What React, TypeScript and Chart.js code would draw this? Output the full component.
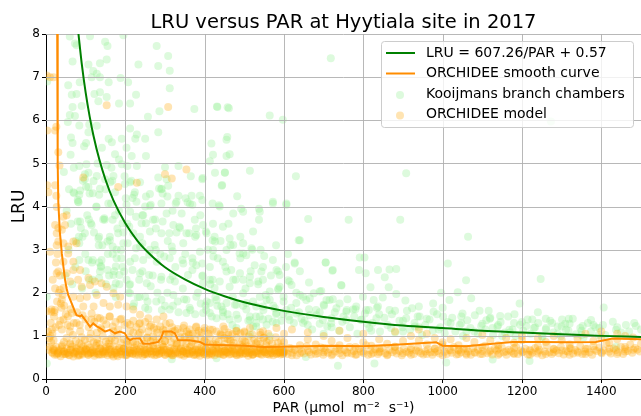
import { useEffect, useRef } from "react";
import { Chart, registerables } from "chart.js";

Chart.register(...registerables);

// ---------- text ----------
const titleText = "LRU versus PAR at Hyytiala site in 2017";
const xLabel = "PAR (\u03bcmol  m\u207b\u00b2  s\u207b\u00b9)";
const yLabel = "LRU";
const legendLabels = [
  "LRU = 607.26/PAR + 0.57",
  "ORCHIDEE smooth curve",
  "Kooijmans branch chambers",
  "ORCHIDEE model",
];

// ---------- axes ----------
const xTicks = [0, 200, 400, 600, 800, 1000, 1200, 1400];
const yTicks = [0, 1, 2, 3, 4, 5, 6, 7, 8];
const xMin = 0;
const xMax = 1500;
const yMin = 0;
const yMax = 8;

// ---------- fitted curve ----------
const fitPar = [80, 90, 100, 110, 120, 135, 150, 170, 200, 230, 260, 300, 350, 400, 450, 500, 600, 700, 800, 900, 1000, 1100, 1200, 1300, 1400, 1500];
const fitLru = [8.16, 7.32, 6.64, 6.09, 5.63, 5.07, 4.62, 4.14, 3.61, 3.21, 2.91, 2.59, 2.31, 2.09, 1.92, 1.78, 1.58, 1.44, 1.33, 1.24, 1.18, 1.12, 1.08, 1.04, 1.0, 0.975];

// ---------- ORCHIDEE smooth curve ----------
const smoothPar = [28, 29, 30, 31, 35, 40, 44, 48, 52, 56, 65, 73, 77, 86, 90, 102, 111, 119, 128, 136, 149, 161, 174, 186, 199, 205, 212, 220, 237, 245, 262, 283, 290, 296, 316, 325, 333, 362, 388, 400, 430, 465, 500, 549, 589, 650, 720, 799, 870, 942, 984, 1000, 1059, 1120, 1176, 1250, 1320, 1386, 1428, 1500];
const smoothLru = [8.6, 6.5, 5.0, 4.1, 3.4, 2.9, 2.6, 2.3, 2.1, 1.95, 1.75, 1.56, 1.48, 1.45, 1.48, 1.33, 1.21, 1.29, 1.22, 1.18, 1.1, 1.14, 1.06, 1.1, 1.06, 0.95, 0.9, 0.94, 0.94, 0.82, 0.82, 0.86, 0.95, 1.1, 1.1, 1.06, 0.9, 0.9, 0.86, 0.8, 0.79, 0.78, 0.77, 0.74, 0.75, 0.76, 0.77, 0.76, 0.79, 0.83, 0.85, 0.77, 0.76, 0.81, 0.86, 0.86, 0.85, 0.86, 0.94, 0.92];

// ---------- Kooijmans branch chambers ----------
const greenPar = [
  60, 111, 77, 73, 149, 155, 195, 279, 308, 67, 107, 136, 153, 283, 233, 312, 119, 128, 136, 115, 188, 207, 56, 85, 158, 312, 65, 77, 122, 136,
  153, 227, 212, 67, 90, 132, 184, 257, 286, 374, 431, 458, 60, 73, 109, 84, 55, 128, 212, 229, 250, 225, 283, 63, 67, 101, 107, 141, 158, 166,
  191, 174, 184, 203, 216, 252, 205, 191, 84, 102, 153, 229, 300, 334, 413, 421, 455, 455, 98, 107, 128, 149, 170, 98, 120, 162, 212, 237, 283, 304,
  308, 394, 426, 451, 443, 69, 86, 107, 136, 174, 199, 224, 262, 292, 334, 367, 388,
  718, 432, 461, 564, 597, 457, 417, 463, 451, 514, 395, 630, 444, 482, 572, 606, 436, 492, 537, 908, 1273,
  606, 661, 763, 893, 637, 1064, 627, 705, 722, 791, 803, 789, 806, 837, 866, 883, 854, 1013, 1059, 1247, 589, 610, 619, 663, 745, 818, 864, 883, 996, 1038,
  1072, 1017, 599, 648, 675, 694, 707, 723, 740, 799, 826, 849, 906, 774, 814, 837, 866, 923, 940, 976, 977, 1001, 1047, 1093, 1116, 1145, 1194, 1181, 1226, 1276,
  1301, 1318, 1374, 1406, 1429, 1462, 1483, 598, 631, 665, 698, 719, 757, 794, 833, 908, 942, 1047, 1097, 1126, 1168, 1211, 1261, 1311, 1353, 1395, 1437, 1487,
  736, 828, 1009, 1126, 1219, 655, 1437,
  81, 127, 157, 203, 228, 262, 291, 329, 363, 86, 115, 98, 148, 174, 212, 245, 241, 270, 304, 321, 342, 375, 396, 438, 472, 497, 539, 537, 572, 182,
  220, 262, 291, 329, 354, 379, 425, 463, 497, 132, 161, 195, 237, 274, 317, 346, 388, 421, 455, 497, 518, 547, 581, 107, 140, 178, 212, 245, 279, 312,
  346, 379, 413, 455, 489, 514, 547, 585, 136, 170, 203, 237, 254, 291, 325, 358, 396, 425, 463, 497, 539, 564, 170, 212, 250, 291, 321, 354, 379, 413,
  442, 476, 505, 547, 581, 220, 258, 312, 354, 396, 430, 463, 514, 547, 480, 530, 581, 514, 564, 2, 430, 317, 84, 2, 3,
  700, 900, 1150, 1350, 1450, 1250,
];
const greenLru = [
  7.94, 7.95, 7.74, 7.78, 7.82, 7.72, 7.97, 7.72, 7.49, 7.36, 7.29, 7.32, 7.41, 7.26, 7.29, 7.15, 7.14, 7.08, 7.0, 7.0, 6.98, 6.88, 6.81, 6.88, 6.88, 6.74, 6.59, 6.61, 6.61, 6.65,
  6.54, 6.59, 6.39, 6.31, 6.33, 6.44, 6.39, 6.08, 6.21, 6.26, 6.32, 6.3, 6.12, 6.1, 5.9, 5.88, 5.96, 5.87, 5.81, 5.67, 5.57, 5.57, 5.72, 5.6, 5.47, 5.47, 5.72, 5.36, 5.57, 5.49,
  5.57, 5.21, 5.09, 5.36, 5.17, 5.17, 4.94, 4.98, 4.94, 4.98, 4.96, 4.94, 4.91, 4.94, 5.05, 5.2, 5.55, 5.17, 4.75, 4.78, 4.71, 4.63, 4.71, 4.63, 4.59, 4.56, 4.56, 4.56, 4.67, 4.63,
  4.48, 4.63, 4.78, 4.78, 4.48, 4.33, 4.37, 4.45, 4.41, 4.33, 4.52, 4.33, 4.29, 4.41, 4.25, 4.25, 4.25,
  7.44, 6.31, 6.28, 6.11, 6.01, 5.61, 5.46, 5.21, 4.79, 4.83, 4.66, 4.7, 4.5, 4.24, 4.11, 4.07, 4.03, 3.95, 3.95, 4.77, 5.97,
  4.04, 3.71, 3.69, 3.69, 3.22, 3.3, 2.7, 2.7, 2.51, 2.82, 2.82, 2.53, 2.45, 2.53, 2.54, 2.55, 2.36, 2.68, 2.29, 2.32, 2.41, 2.29, 2.18, 2.24, 2.17, 2.13, 2.13, 1.97, 2.0, 2.01,
  1.87, 1.83, 1.91, 1.91, 1.99, 2.04, 1.83, 1.85, 1.75, 1.91, 1.83, 1.89, 1.82, 1.61, 1.6, 1.68, 1.6, 1.64, 1.68, 1.75, 1.56, 1.45, 1.45, 1.58, 1.58, 1.46, 1.75, 1.5, 1.38, 1.3,
  1.38, 1.4, 1.37, 1.66, 1.33, 1.25, 1.3, 1.51, 1.52, 1.48, 1.37, 1.29, 1.37, 1.37, 1.41, 1.41, 1.45, 1.29, 1.23, 1.18, 1.14, 1.23, 1.18, 1.14, 1.23, 1.18, 1.14, 1.23,
  0.31, 0.36, 0.38, 0.45, 0.42, 0.51, 0.75,
  4.11, 3.99, 4.07, 4.04, 4.11, 4.01, 4.07, 4.11, 4.06, 3.65, 3.57, 3.38, 3.69, 3.8, 3.88, 3.8, 3.61, 3.69, 3.84, 3.57, 3.84, 3.69, 3.57, 4.0, 3.84, 3.88, 3.88, 3.69, 4.07, 3.38,
  3.38, 3.42, 3.38, 3.4, 3.38, 3.34, 3.3, 3.26, 3.15, 3.26, 3.22, 3.15, 3.07, 3.11, 3.07, 3.15, 2.95, 2.99, 2.99, 2.91, 3.03, 2.6, 2.53, 2.76, 2.76, 2.8, 2.72, 2.76, 2.72, 2.8,
  2.68, 2.64, 2.6, 2.49, 2.45, 2.37, 2.3, 2.07, 2.49, 2.41, 2.3, 2.45, 2.22, 2.37, 2.26, 2.41, 2.22, 2.11, 2.14, 1.99, 1.91, 1.84, 2.11, 1.99, 1.91, 1.84, 1.95, 1.84, 1.91, 1.76,
  1.68, 1.72, 1.61, 1.68, 1.53, 1.68, 1.61, 1.61, 1.53, 1.53, 1.41, 1.38, 1.45, 1.38, 1.18, 1.22, 1.3, 1.03, 0.99, 0.36, 0.48, 0.46, 3.15, 1.91, 6.9,
  1.05, 1.1, 1.0, 1.02, 1.08, 0.98,
];
const greenCloudPar = [
  71, 84, 101, 118, 134, 80, 164, 201, 222, 252, 264, 285, 306, 327, 352, 369, 394, 420, 80, 113,
  147, 168, 180, 193, 210, 227, 243, 252, 277, 294, 311, 336, 361, 378, 403, 420, 92, 134, 155, 168,
  189, 206, 227, 243, 260, 277, 298, 319, 344, 369, 394, 84, 118, 139, 155, 176, 197, 218, 235, 260,
  290, 319, 369, 394, 420, 109, 134, 176, 210, 185,
  405, 426, 446, 472, 522, 422, 446, 467, 488, 505, 526, 543, 572, 585, 627, 640, 705, 723, 744, 413,
  438, 472, 497, 514, 535, 564, 589, 614, 640, 665, 690, 405, 430, 455, 480, 505, 530, 556, 577, 606,
  631, 656, 681, 715, 732, 757, 782, 807, 413, 446, 480, 514, 539, 572, 614, 648, 522, 556,
];
const greenCloudLru = [
  4.31, 4.27, 4.46, 4.31, 4.27, 4.15, 4.07, 4.19, 4.27, 4.23, 4.04, 4.42, 4.23, 4.07, 4.19, 4.04, 4.15, 4.07, 3.65, 3.61,
  3.73, 3.69, 3.49, 3.61, 3.53, 3.76, 3.8, 3.61, 3.49, 3.65, 3.38, 3.53, 3.38, 3.49, 3.42, 3.22, 3.3, 3.3, 3.19, 3.07,
  2.99, 3.15, 3.03, 3.15, 2.88, 2.99, 2.84, 2.96, 2.76, 2.8, 2.68, 2.76, 2.76, 2.62, 2.53, 2.61, 2.49, 2.53, 2.3, 2.41,
  2.3, 2.38, 2.53, 2.38, 2.3, 2.3, 2.34, 2.22, 2.18, 2.41,
  3.38, 3.19, 3.53, 3.11, 3.42, 2.84, 2.72, 2.53, 2.91, 2.87, 2.64, 2.49, 2.76, 2.49, 2.68, 3.22, 2.7, 2.53, 2.18, 2.3,
  2.26, 2.3, 2.3, 2.22, 2.26, 2.03, 2.14, 2.26, 1.95, 1.87, 2.03, 1.8, 1.83, 1.76, 1.72, 1.76, 1.68, 1.83, 1.64, 1.6,
  1.76, 1.83, 1.6, 1.83, 1.64, 1.56, 1.68, 1.6, 1.53, 1.45, 1.49, 1.37, 1.45, 1.33, 1.37, 1.3, 1.22, 1.26,
];
const greenRightPar = [
  660, 690, 720, 750, 780, 810, 840, 870, 900, 930, 960, 990, 1020, 1050, 1080, 1110, 1140, 1170, 1200, 1230,
  1260, 1290, 1320, 1350, 1380, 1410, 1440, 1470, 1500, 700, 760, 820, 880, 940, 1000, 1060, 1120, 1180, 1240, 1300,
];
const greenRightLru = [
  1.25, 1.55, 1.2, 1.45, 1.62, 1.28, 1.5, 1.18, 1.35, 1.22, 1.4, 1.15, 1.3, 1.52, 1.1, 1.36, 1.25, 1.08, 1.32, 1.18,
  1.4, 1.05, 1.28, 1.12, 1.25, 1.02, 1.2, 1.1, 1.15, 1.72, 1.85, 1.12, 1.58, 1.2, 1.65, 1.1, 1.42, 1.3, 1.55, 1.22,
];
// further points of the dense cloud (low PAR)
const greenLowPar = [
  45, 52, 58, 63, 70, 75, 82, 88, 93, 99, 104, 110, 116, 121, 127, 133, 138, 144, 150, 156,
  161, 167, 172, 178, 184, 190, 195, 48, 57, 66, 74, 83, 91, 100, 108, 117, 125, 134, 142, 151,
  159, 168, 176, 185, 193, 62, 96, 130, 165, 198,
];
const greenLowLru = [
  4.8, 3.9, 4.4, 3.6, 4.9, 3.2, 4.1, 3.5, 4.6, 2.9, 3.8, 4.3, 2.7, 3.4, 4.0, 3.1, 2.6, 3.7, 4.4, 2.9,
  3.3, 4.6, 2.5, 3.0, 3.9, 2.8, 3.4, 2.4, 3.0, 2.2, 2.6, 3.3, 2.1, 2.5, 3.7, 2.3, 2.0, 2.7, 3.1, 2.2,
  2.4, 2.9, 1.9, 2.2, 2.6, 5.2, 5.4, 5.0, 4.9, 4.7,
];
// further points of the cloud (mid PAR)
const greenMidPar = [
  205, 212, 218, 224, 231, 237, 243, 250, 256, 262, 269, 275, 281, 288, 294, 300, 307, 313, 319, 326,
  332, 338, 345, 351, 357, 364, 370, 376, 383, 389, 395, 402, 408, 414, 421, 427, 433, 440, 446, 208,
  222, 236, 250, 264, 278, 292, 306, 320, 334, 348, 362, 376, 390, 404, 418, 432, 446, 215, 290, 365,
  452, 458, 465, 471, 478, 484, 490, 497, 503, 510, 516, 522, 529, 535, 541, 548, 554, 561, 567, 573,
  580, 586, 593, 599, 605, 612, 618, 625, 631, 638, 644, 460, 490, 520, 550, 580, 610, 640, 470, 530,
];
const greenMidLru = [
  3.6, 2.2, 4.2, 2.8, 1.9, 3.3, 2.5, 4.0, 1.8, 3.0, 2.4, 3.7, 2.0, 2.9, 4.3, 1.7, 3.2, 2.3, 3.9, 2.6,
  1.8, 3.5, 2.1, 2.9, 4.1, 1.6, 2.7, 3.3, 2.0, 3.8, 2.4, 1.7, 3.0, 2.2, 3.6, 1.9, 2.8, 3.2, 1.6, 2.0,
  1.75, 1.9, 1.65, 2.15, 1.8, 1.6, 2.0, 1.7, 1.55, 1.85, 1.65, 1.5, 1.75, 1.6, 1.45, 1.7, 1.55, 4.6, 4.4, 4.7,
  2.6, 1.5, 3.1, 1.9, 2.3, 1.4, 2.8, 1.7, 2.1, 1.35, 2.5, 1.8, 1.45, 2.2, 3.0, 1.6, 1.95, 1.4, 2.4, 1.7,
  1.5, 2.1, 1.35, 1.8, 2.6, 1.45, 1.65, 1.3, 2.0, 1.55, 1.4, 3.6, 3.3, 3.0, 2.85, 3.1, 2.9, 2.5, 1.25, 1.3,
];
// band of chamber points around the fitted curve at high PAR
const greenHighPar = [
  652, 663, 671, 682, 690, 701, 709, 720, 728, 739, 747, 758, 766, 777, 785, 796, 804, 815, 823, 834,
  842, 853, 861, 872, 880, 891, 899, 910, 918, 929, 937, 948, 956, 967, 975, 986, 994, 1005, 1013, 1024,
  1032, 1043, 1051, 1062, 1070, 1081, 1089, 1100, 1108, 1119, 1127, 1138, 1146, 1157, 1165, 1176, 1184, 1195, 1203, 1214,
  1222, 1233, 1241, 1252, 1260, 1271, 1279, 1290, 1298, 1309, 1317, 1328, 1336, 1347, 1355, 1366, 1374, 1385, 1393, 1404,
];
const greenHighLru = [
  1.35, 1.62, 1.15, 1.48, 1.28, 1.7, 1.22, 1.41, 1.55, 1.12, 1.33, 1.6, 1.2, 1.45, 1.05, 1.38, 1.52, 1.18, 1.3, 1.65,
  1.1, 1.42, 1.25, 1.5, 1.08, 1.35, 1.2, 1.58, 1.14, 1.3, 1.45, 1.02, 1.25, 1.38, 1.12, 1.5, 1.2, 1.06, 1.32, 1.42,
  1.1, 1.25, 1.0, 1.36, 1.18, 1.48, 1.05, 1.28, 1.15, 1.4, 1.02, 1.22, 1.32, 1.08, 1.45, 1.15, 1.0, 1.26, 1.12, 1.38,
  1.05, 1.2, 1.3, 0.98, 1.15, 1.35, 1.08, 1.22, 1.0, 1.28, 1.12, 1.4, 1.04, 1.18, 0.96, 1.3, 1.1, 1.2, 1.02, 1.25,
];

// ---------- ORCHIDEE model ----------
const orangePar = [
  2, 10, 19, 23, 3, 26, 31, 34, 3, 23, 6, 26, 153, 308, 94, 229, 300, 317, 354, 182,
  27, 23, 27, 31, 44, 48, 52, 40, 10, 44, 56, 69, 77, 56, 69, 44, 31, 27, 52, 69, 86, 81, 61, 35, 44, 90, 107, 111, 123, 140,
  153, 170, 187, 40, 14, 2, 69, 86, 103, 128, 94, 120, 145, 161, 182, 203, 220, 237, 258, 279, 296, 65, 44, 40, 61, 77, 115, 136, 161, 187,
  212, 237, 262, 312, 346, 379, 413, 447, 480, 514, 547, 581, 86, 128, 170, 237, 296, 14, 22,
  18, 40, 61, 77, 94, 111, 128, 145, 161, 178, 195, 212, 229, 245, 262, 279, 296, 312, 329, 346, 363, 379, 396, 413, 430, 447, 463, 480, 497, 514,
  530, 547, 564, 581, 69, 170, 270, 363, 463,
  30, 50, 85, 100, 120, 135, 150, 185, 200, 220, 250, 270, 290, 320, 340, 355, 370, 390, 405, 420, 440, 455, 470, 490, 505, 520, 540, 555, 575, 590,
  110, 160, 205, 255, 300, 350, 400, 450, 500, 550, 280, 320, 360, 400, 440, 500, 540,
  600, 600, 600, 620, 620, 620, 640, 640, 660, 660, 660, 680, 680, 700, 700, 700, 720, 720, 740, 740, 740, 760, 760, 780, 780, 800, 800, 800, 820, 820,
  840, 840, 840, 860, 860, 880, 880, 880, 900, 900, 920, 920, 920, 940, 940, 940, 960, 960, 960, 980, 980, 980, 1000, 1000, 1000, 1020, 1020, 1040, 1040, 1040,
  1060, 1060, 1060, 1080, 1080, 1100, 1100, 1100, 1120, 1120, 1140, 1140, 1140, 1160, 1160, 1180, 1180, 1180, 1200, 1200, 1200, 1220, 1220, 1240, 1240, 1240, 1260, 1260, 1280, 1280,
  1280, 1300, 1300, 1320, 1320, 1320, 1340, 1340, 1360, 1360, 1360, 1380, 1380, 1400, 1400, 1400, 1420, 1420, 1440, 1440, 1440, 1460, 1460, 1460, 1480, 1480, 1500,
];
const orangeLru = [
  7.04, 7.0, 7.0, 5.76, 5.76, 5.85, 5.26, 4.95, 4.49, 4.49, 4.33, 4.25, 6.35, 6.31, 4.67, 4.55, 4.75, 4.65, 4.86, 4.45,
  3.99, 3.57, 3.38, 3.19, 3.76, 3.57, 3.8, 3.46, 2.95, 3.15, 3.07, 3.19, 3.15, 2.91, 2.72, 2.72, 2.49, 2.45, 2.45, 2.53, 2.53, 2.3, 2.26, 2.07, 2.11, 2.14, 2.34, 2.18, 2.26, 2.22,
  2.14, 1.99, 1.91, 1.84, 1.61, 1.57, 1.91, 1.87, 1.91, 1.95, 1.68, 1.68, 1.76, 1.68, 1.72, 1.68, 1.61, 1.49, 1.41, 1.38, 1.45, 1.53, 1.38, 1.15, 1.22, 1.3, 1.38, 1.41, 1.45, 1.38,
  1.26, 1.3, 1.22, 1.3, 1.18, 1.22, 1.15, 1.22, 1.11, 1.18, 1.11, 1.18, 1.11, 1.07, 1.11, 1.07, 1.03, 1.56, 1.6,
  0.67, 0.75, 0.83, 0.64, 0.75, 0.6, 0.83, 0.64, 0.75, 0.56, 0.71, 0.6, 0.79, 0.64, 0.71, 0.56, 0.75, 0.6, 0.83, 0.64, 0.75, 0.56, 0.71, 0.6, 0.79, 0.64, 0.71, 0.56, 0.75, 0.6,
  0.83, 0.64, 0.71, 0.58, 0.52, 0.52, 0.91, 0.94, 0.91,
  0.6, 0.58, 0.55, 0.68, 0.62, 0.57, 0.7, 0.62, 0.55, 0.66, 0.58, 0.63, 0.66, 0.55, 0.72, 0.58, 0.66, 0.62, 0.55, 0.68, 0.58, 0.62, 0.68, 0.6, 0.66, 0.56, 0.7, 0.58, 0.66, 0.62,
  0.95, 0.9, 0.88, 0.96, 0.88, 0.98, 0.9, 0.95, 0.88, 0.96, 1.15, 1.1, 1.05, 1.12, 1.05, 1.08, 1.02,
  0.62, 0.85, 1.05, 0.7, 0.55, 1.15, 0.78, 0.6, 0.66, 0.92, 1.08, 0.58, 0.8, 0.72, 0.62, 1.0, 0.55, 0.88, 0.68, 0.78, 1.12, 0.6, 0.95, 0.74, 0.56, 0.64, 0.85, 1.05, 0.58, 0.77,
  0.7, 0.92, 0.62, 0.55, 0.82, 0.66, 1.1, 0.75, 0.6, 0.88, 0.72, 0.56, 1.0, 0.64, 0.9, 1.15, 0.58, 0.8, 1.05, 0.7, 0.62, 0.95, 0.55, 0.85, 0.74, 0.66, 0.92, 0.58, 0.78, 0.68,
  0.7, 0.56, 0.95, 0.62, 0.86, 0.74, 0.58, 1.02, 0.66, 0.9, 0.56, 0.78, 0.7, 0.64, 0.95, 0.72, 0.58, 0.84, 0.62, 0.9, 1.0, 0.68, 0.56, 0.76, 0.64, 0.95, 0.58, 0.86, 0.7, 0.62,
  1.0, 0.66, 0.9, 0.56, 0.8, 0.72, 0.64, 0.94, 0.7, 0.58, 1.05, 0.76, 0.88, 0.62, 0.95, 1.1, 0.7, 0.84, 0.58, 0.92, 1.05, 0.74, 0.64, 1.0, 0.68, 0.96, 0.82,
];
// dense lower band, low PAR (two layers)
const orangeBandPar1 = [
  15, 19, 22, 26, 30, 33, 37, 41, 44, 48, 52, 55, 59, 63, 66, 70, 74, 78, 81, 85,
  89, 92, 96, 100, 103, 107, 111, 115, 118, 122, 126, 129, 133, 137, 140, 144, 148, 152, 155, 159,
  163, 166, 170, 174, 177, 181, 185, 189, 192, 196, 200, 203, 207, 211, 214, 218, 222, 226, 229, 233,
  237, 240, 244, 248, 251, 255, 259, 263, 266, 270, 274, 277, 281, 285, 288, 292, 296, 300, 303, 307,
  311, 314, 318, 322, 325, 329, 333, 337, 340, 344, 348, 351, 355, 359, 362, 366, 370, 374, 377, 381,
  385, 388, 392, 396, 399, 403, 407, 411, 414, 418, 422, 425, 429, 433, 436, 440, 444, 448, 451, 455,
  459, 462, 466, 470, 473, 477, 481, 485, 488, 492, 496, 499, 503, 507, 510, 514, 518, 522, 525, 529,
  533, 536, 540, 544, 547, 551, 555, 559, 562, 566, 570, 573, 577, 581, 585, 588, 591, 594, 597, 599,
];
const orangeBandLru1 = [
  0.62, 0.7, 0.56, 0.74, 0.6, 0.66, 0.53, 0.78, 0.64, 0.58, 0.71, 0.61, 0.55, 0.68, 0.75, 0.59, 0.63, 0.72, 0.54, 0.67,
  0.8, 0.57, 0.65, 0.7, 0.6, 0.56, 0.73, 0.62, 0.68, 0.54, 0.77, 0.59, 0.64, 0.71, 0.57, 0.66, 0.61, 0.74, 0.55, 0.69,
  0.63, 0.58, 0.76, 0.6, 0.67, 0.53, 0.72, 0.65, 0.57, 0.7, 0.62, 0.55, 0.79, 0.61, 0.66, 0.58, 0.73, 0.56, 0.68, 0.64,
  0.6, 0.75, 0.54, 0.69, 0.62, 0.57, 0.71, 0.65, 0.59, 0.77, 0.55, 0.63, 0.7, 0.58, 0.66, 0.61, 0.74, 0.56, 0.68, 0.6,
  0.64, 0.72, 0.55, 0.67, 0.59, 0.78, 0.62, 0.57, 0.7, 0.65, 0.54, 0.73, 0.6, 0.66, 0.58, 0.76, 0.63, 0.56, 0.69, 0.61,
  0.67, 0.54, 0.74, 0.62, 0.58, 0.71, 0.65, 0.57, 0.8, 0.6, 0.64, 0.55, 0.72, 0.68, 0.59, 0.63, 0.75, 0.56, 0.66, 0.61,
  0.7, 0.57, 0.64, 0.77, 0.59, 0.68, 0.55, 0.73, 0.62, 0.66, 0.58, 0.71, 0.6, 0.76, 0.54, 0.67, 0.63, 0.57, 0.74, 0.61,
  0.65, 0.59, 0.72, 0.56, 0.69, 0.62, 0.78, 0.58, 0.66, 0.6, 0.7, 0.55, 0.64, 0.73, 0.61, 0.68, 0.57, 0.75, 0.63, 0.59,
];
const orangeBandPar2 = [
  17, 21, 27, 31, 38, 42, 46, 53, 57, 61, 68, 72, 76, 83, 87, 91, 98, 102, 106, 113,
  117, 121, 128, 132, 136, 143, 147, 151, 158, 162, 166, 173, 177, 181, 188, 192, 196, 203, 207, 211,
  218, 222, 226, 233, 237, 241, 248, 252, 256, 263, 267, 271, 278, 282, 286, 293, 297, 301, 308, 312,
  316, 323, 327, 331, 338, 342, 346, 353, 357, 361, 368, 372, 376, 383, 387, 391, 398, 402, 406, 413,
  417, 421, 428, 432, 436, 443, 447, 451, 458, 462, 466, 473, 477, 481, 488, 492, 496, 503, 507, 511,
  518, 522, 526, 533, 537, 541, 548, 552, 556, 563, 567, 571, 578, 582, 586, 590, 593, 596, 598, 600,
];
const orangeBandLru2 = [
  0.6, 0.66, 0.57, 0.63, 0.69, 0.58, 0.64, 0.61, 0.56, 0.67, 0.62, 0.59, 0.7, 0.57, 0.65, 0.6, 0.63, 0.68, 0.56, 0.61,
  0.66, 0.59, 0.64, 0.57, 0.71, 0.62, 0.58, 0.65, 0.6, 0.68, 0.56, 0.63, 0.61, 0.67, 0.58, 0.64, 0.7, 0.57, 0.62, 0.66,
  0.59, 0.65, 0.61, 0.56, 0.69, 0.63, 0.58, 0.67, 0.6, 0.64, 0.57, 0.71, 0.62, 0.66, 0.59, 0.63, 0.68, 0.56, 0.61, 0.65,
  0.58, 0.7, 0.63, 0.6, 0.66, 0.57, 0.64, 0.61, 0.68, 0.59, 0.62, 0.56, 0.67, 0.63, 0.6, 0.65, 0.58, 0.69, 0.61, 0.64,
  0.57, 0.66, 0.62, 0.59, 0.7, 0.63, 0.56, 0.65, 0.61, 0.67, 0.58, 0.64, 0.6, 0.68, 0.57, 0.62, 0.66, 0.59, 0.64, 0.61,
  0.69, 0.57, 0.63, 0.6, 0.66, 0.58, 0.65, 0.62, 0.68, 0.56, 0.63, 0.6, 0.67, 0.59, 0.64, 0.61, 0.66, 0.58, 0.62, 0.65,
];
// scattered points just above the band
const orangeMidPar = [
  45, 52, 61, 68, 75, 84, 90, 98, 106, 113, 120, 129, 135, 143, 151, 158, 165, 174, 180, 188,
  196, 203, 210, 219, 225, 233, 241, 248, 255, 264, 270, 278, 286, 293, 300, 309, 315, 323, 331, 338,
  345, 354, 360, 368, 376, 383, 390, 399, 405, 413, 421, 428, 435, 444, 450, 458, 466, 473, 480, 489,
  495, 503, 511, 518, 525, 534, 540, 548, 556, 563, 570, 579, 585, 593, 60, 140, 220, 300, 380, 460,
];
const orangeMidLru = [
  0.86, 0.95, 0.8, 1.02, 0.88, 0.83, 0.97, 0.91, 0.79, 1.05, 0.85, 0.93, 0.81, 0.99, 0.87, 0.82, 0.94, 0.89, 1.01, 0.84,
  0.92, 0.8, 0.96, 0.86, 0.83, 1.03, 0.9, 0.81, 0.95, 0.87, 0.99, 0.84, 0.92, 0.8, 0.88, 1.0, 0.85, 0.94, 0.82, 0.97,
  0.89, 0.83, 1.02, 0.86, 0.91, 0.8, 0.95, 0.88, 0.84, 0.98, 0.82, 0.9, 0.86, 1.01, 0.81, 0.93, 0.87, 0.84, 0.96, 0.8,
  0.89, 0.85, 0.99, 0.83, 0.92, 0.87, 0.81, 0.95, 0.86, 0.9, 0.82, 0.97, 0.84, 0.88, 1.1, 1.15, 1.08, 1.12, 1.05, 1.02,
];
// upper sloping band
const orangeUpperPar = [
  55, 62, 70, 78, 85, 92, 100, 108, 115, 122, 130, 138, 145, 152, 160, 168, 175, 182, 190, 198,
  205, 212, 220, 228, 235, 242, 250, 258, 265, 272, 280, 288, 295, 302, 310, 318, 325, 332, 340, 348,
  355, 362, 370, 378, 385, 392, 400, 410, 420, 430, 440, 450, 460, 470, 480, 490, 500, 520, 540, 560,
];
const orangeUpperLru = [
  1.45, 1.62, 1.3, 1.55, 1.25, 1.48, 1.38, 1.2, 1.52, 1.33, 1.42, 1.18, 1.36, 1.27, 1.45, 1.22, 1.32, 1.15, 1.4, 1.25,
  1.3, 1.12, 1.35, 1.2, 1.28, 1.15, 1.32, 1.1, 1.25, 1.18, 1.08, 1.22, 1.14, 1.28, 1.05, 1.2, 1.12, 1.16, 1.08, 1.24,
  1.1, 1.15, 1.05, 1.2, 1.12, 1.08, 1.18, 1.05, 1.14, 1.1, 1.02, 1.16, 1.08, 1.04, 1.12, 1.06, 1.1, 1.03, 1.08, 1.05,
];
// steep part near PAR = 0
const orangeLeftPar = [5, 8, 12, 16, 20, 24, 28, 32, 36, 9, 13, 17, 21, 25, 29, 33, 37, 6, 11, 15, 19, 23, 27, 31, 35, 39, 42, 46, 50, 54];
const orangeLeftLru = [1.1, 0.95, 1.3, 1.05, 1.45, 1.2, 1.8, 2.0, 1.35, 0.75, 0.85, 2.3, 1.55, 2.7, 2.9, 1.25, 1.75, 0.68, 1.0, 1.15, 0.9, 2.1, 3.1, 3.5, 2.4, 1.65, 1.95, 1.7, 1.5, 1.25];
// band at high PAR
const orangeRightPar = [
  603, 609, 614, 621, 627, 632, 639, 645, 650, 657, 663, 668, 675, 681, 686, 693, 699, 704, 711, 717,
  722, 729, 735, 740, 747, 753, 758, 765, 771, 776, 783, 789, 794, 801, 807, 812, 819, 825, 830, 837,
  843, 848, 855, 861, 866, 873, 879, 884, 891, 897, 902, 909, 915, 920, 927, 933, 938, 945, 951, 956,
  963, 969, 974, 981, 987, 992, 999, 1005, 1010, 1017, 1023, 1028, 1035, 1041, 1046, 1053, 1059, 1064, 1071, 1077,
  1082, 1089, 1095, 1100, 1107, 1113, 1118, 1125, 1131, 1136, 1143, 1149, 1154, 1161, 1167, 1172, 1179, 1185, 1190, 1197,
  1203, 1208, 1215, 1221, 1226, 1233, 1239, 1244, 1251, 1257, 1262, 1269, 1275, 1280, 1287, 1293, 1298, 1305, 1311, 1316,
  1323, 1329, 1334, 1341, 1347, 1352, 1359, 1365, 1370, 1377, 1383, 1388, 1395, 1401, 1406, 1413, 1419, 1424, 1431, 1437,
  1442, 1449, 1455, 1460, 1467, 1473, 1478, 1485, 1491, 1497,
];
const orangeRightLru = [
  0.64, 0.58, 0.72, 0.61, 0.67, 0.55, 0.7, 0.63, 0.59, 0.76, 0.62, 0.57, 0.68, 0.65, 0.6, 0.73, 0.56, 0.66, 0.61, 0.69,
  0.58, 0.64, 0.71, 0.6, 0.55, 0.67, 0.62, 0.74, 0.59, 0.65, 0.57, 0.7, 0.63, 0.6, 0.78, 0.56, 0.66, 0.61, 0.69, 0.58,
  0.64, 0.72, 0.6, 0.57, 0.67, 0.62, 0.75, 0.59, 0.65, 0.55, 0.7, 0.63, 0.61, 0.68, 0.58, 0.66, 0.73, 0.6, 0.57, 0.64,
  0.69, 0.62, 0.56, 0.71, 0.65, 0.59, 0.8, 0.63, 0.58, 0.67, 0.61, 0.74, 0.57, 0.66, 0.62, 0.7, 0.59, 0.64, 0.56, 0.72,
  0.61, 0.68, 0.58, 0.65, 0.77, 0.6, 0.63, 0.57, 0.7, 0.66, 0.59, 0.73, 0.62, 0.56, 0.68, 0.64, 0.6, 0.75, 0.58, 0.66,
  0.63, 0.7, 0.57, 0.65, 0.61, 0.72, 0.59, 0.67, 0.55, 0.64, 0.78, 0.62, 0.58, 0.69, 0.66, 0.6, 0.74, 0.57, 0.65, 0.63,
  0.71, 0.59, 0.67, 0.61, 0.76, 0.58, 0.64, 0.7, 0.62, 0.56, 0.68, 0.65, 0.73, 0.6, 0.66, 0.82, 0.63, 0.59, 0.71, 0.67,
  0.62, 0.75, 0.58, 0.69, 0.65, 0.8, 0.61, 0.72, 0.68, 0.64,
];

// ---------- colours ----------
const fitColor = "#008000";
const smoothColor = "#ff8c00";
const greenPointColor = "rgba(144,238,144,0.3)";
const orangePointColor = "rgba(255,165,0,0.3)";

const FONT = "'DejaVu Sans', sans-serif";

function pairs(xs: number[], ys: number[]) {
  const n = Math.min(xs.length, ys.length);
  const out: { x: number; y: number }[] = [];
  for (let i = 0; i < n; i++) out.push({ x: xs[i], y: ys[i] });
  return out;
}

const overlayPlugin = {
  id: "overlay",
  afterDatasetDraw(chart: any, args: any) {
    if (args.index !== 3) return;
    // grid lines drawn above the scatter, below the curves
    const { ctx, chartArea: a, scales } = chart;
    ctx.save();
    ctx.strokeStyle = "#b0b0b0";
    ctx.lineWidth = 0.9;
    xTicks.forEach((t) => {
      if (t === xMin) return;
      const px = Math.round(scales.x.getPixelForValue(t)) + 0.5;
      ctx.beginPath();
      ctx.moveTo(px, a.top);
      ctx.lineTo(px, a.bottom);
      ctx.stroke();
    });
    yTicks.forEach((t) => {
      if (t === yMin) return;
      const py = Math.round(scales.y.getPixelForValue(t)) + 0.5;
      ctx.beginPath();
      ctx.moveTo(a.left, py);
      ctx.lineTo(a.right, py);
      ctx.stroke();
    });
    ctx.restore();
  },
  afterDraw(chart: any) {
    const { ctx, chartArea: a } = chart;
    const cx = (a.left + a.right) / 2;
    ctx.save();
    ctx.fillStyle = "#000";
    // title
    ctx.font = `19.5px ${FONT}`;
    ctx.textAlign = "center";
    ctx.textBaseline = "alphabetic";
    ctx.fillText(titleText, cx, 28);
    // x label
    ctx.font = `14px ${FONT}`;
    ctx.fillText(xLabel, cx, 412);
    // y label
    ctx.save();
    ctx.translate(24, (a.top + a.bottom) / 2);
    ctx.rotate(-Math.PI / 2);
    ctx.font = `17px ${FONT}`;
    ctx.fillText(yLabel, 0, 0);
    ctx.restore();

    // legend
    const lx = 381.5, ly = 41.5, lw = 252, lh = 86, r = 3;
    ctx.beginPath();
    ctx.moveTo(lx + r, ly);
    ctx.lineTo(lx + lw - r, ly);
    ctx.arcTo(lx + lw, ly, lx + lw, ly + r, r);
    ctx.lineTo(lx + lw, ly + lh - r);
    ctx.arcTo(lx + lw, ly + lh, lx + lw - r, ly + lh, r);
    ctx.lineTo(lx + r, ly + lh);
    ctx.arcTo(lx, ly + lh, lx, ly + lh - r, r);
    ctx.lineTo(lx, ly + r);
    ctx.arcTo(lx, ly, lx + r, ly, r);
    ctx.closePath();
    ctx.fillStyle = "rgba(255,255,255,0.8)";
    ctx.fill();
    ctx.strokeStyle = "#cccccc";
    ctx.lineWidth = 1;
    ctx.stroke();

    const rows = [53, 73.5, 94, 114.5];
    ctx.lineWidth = 2;
    ctx.strokeStyle = fitColor;
    ctx.beginPath();
    ctx.moveTo(386, rows[0]);
    ctx.lineTo(415, rows[0]);
    ctx.stroke();
    ctx.strokeStyle = smoothColor;
    ctx.beginPath();
    ctx.moveTo(386, rows[1]);
    ctx.lineTo(415, rows[1]);
    ctx.stroke();
    ctx.fillStyle = greenPointColor;
    ctx.beginPath();
    ctx.arc(400, rows[2] + 1, 4, 0, Math.PI * 2);
    ctx.fill();
    ctx.fillStyle = orangePointColor;
    ctx.beginPath();
    ctx.arc(400, rows[3] + 1, 4, 0, Math.PI * 2);
    ctx.fill();

    ctx.fillStyle = "#000";
    ctx.font = `14px ${FONT}`;
    ctx.textAlign = "left";
    ctx.textBaseline = "middle";
    legendLabels.forEach((t, i) => ctx.fillText(t, 426, rows[i]));
    ctx.restore();
  },
};

export default function App() {
  const ref = useRef<HTMLCanvasElement | null>(null);

  useEffect(() => {
    if (!ref.current) return;
    const greenData = [
      ...pairs(greenPar, greenLru),
      ...pairs(greenCloudPar, greenCloudLru),
      ...pairs(greenRightPar, greenRightLru),
      ...pairs(greenLowPar, greenLowLru),
      ...pairs(greenMidPar, greenMidLru),
      ...pairs(greenHighPar, greenHighLru),
    ];
    const orangeData = [
      ...pairs(orangePar, orangeLru),
      ...pairs(orangeBandPar1, orangeBandLru1),
      ...pairs(orangeBandPar2, orangeBandLru2),
      ...pairs(orangeMidPar, orangeMidLru),
      ...pairs(orangeUpperPar, orangeUpperLru),
      ...pairs(orangeLeftPar, orangeLeftLru),
      ...pairs(orangeRightPar, orangeRightLru),
    ];
    const chart = new Chart(ref.current, {
      type: "scatter",
      data: {
        datasets: [
          {
            label: legendLabels[0],
            data: pairs(fitPar, fitLru),
            showLine: true,
            borderColor: fitColor,
            borderWidth: 2,
            pointRadius: 0,
            cubicInterpolationMode: "monotone",
            order: 0,
            clip: 0,
          } as any,
          {
            label: legendLabels[1],
            data: pairs(smoothPar, smoothLru),
            showLine: true,
            borderColor: smoothColor,
            borderWidth: 2,
            pointRadius: 0,
            tension: 0,
            order: 1,
            clip: 0,
          } as any,
          {
            label: legendLabels[2],
            data: greenData,
            backgroundColor: greenPointColor,
            borderWidth: 0,
            pointRadius: 4,
            order: 3,
            clip: 0,
          } as any,
          {
            label: legendLabels[3],
            data: orangeData,
            backgroundColor: orangePointColor,
            borderWidth: 0,
            pointRadius: 4,
            order: 2,
            clip: 0,
          } as any,
        ],
      },
      options: {
        responsive: false,
        animation: false,
        events: [],
        layout: { autoPadding: false, padding: { top: 34, left: 0, right: 0, bottom: 0 } },
        plugins: {
          legend: { display: false },
          title: { display: false },
          tooltip: { enabled: false },
        },
        scales: {
          x: {
            type: "linear",
            min: xMin,
            max: xMax,
            afterFit: (s: any) => {
              s.height = 37;
            },
            afterBuildTicks: (s: any) => {
              s.ticks = xTicks.map((v) => ({ value: v }));
            },
            ticks: {
              font: { family: FONT, size: 12 },
              color: "#000",
              padding: 2,
              maxRotation: 0,
              autoSkip: false,
              callback: (v: any) => String(v),
            },
            grid: {
              drawOnChartArea: false,
              drawTicks: true,
              tickLength: 4,
              tickColor: "#000",
            },
            border: { display: true, color: "#000", width: 1 },
          },
          y: {
            type: "linear",
            min: yMin,
            max: yMax,
            afterFit: (s: any) => {
              s.width = 46;
            },
            afterBuildTicks: (s: any) => {
              s.ticks = yTicks.map((v) => ({ value: v }));
            },
            ticks: {
              font: { family: FONT, size: 12 },
              color: "#000",
              padding: 2,
              autoSkip: false,
              callback: (v: any) => String(v),
            },
            grid: {
              drawOnChartArea: false,
              drawTicks: true,
              tickLength: 4,
              tickColor: "#000",
            },
            border: { display: true, color: "#000", width: 1 },
          },
        },
      },
      plugins: [overlayPlugin],
    });
    return () => chart.destroy();
  }, []);

  return (
    <div style={{ position: "fixed", left: 0, top: 0, width: 641, height: 416, background: "#fff" }}>
      <canvas ref={ref} width={641} height={416} style={{ display: "block" }} />
    </div>
  );
}
